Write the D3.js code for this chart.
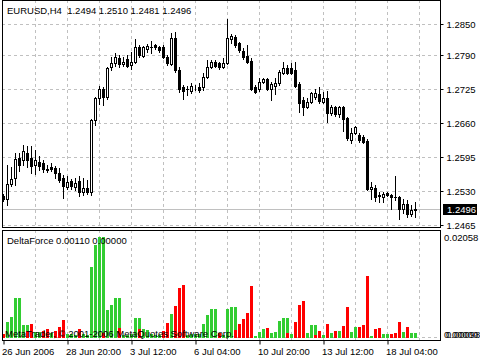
<!DOCTYPE html>
<html>
<head>
<meta charset="utf-8">
<script src="https://cdn.jsdelivr.net/npm/d3@7"></script>
<style>
  body { margin: 0; background: #fff; }
  svg text { font-family: "Liberation Sans", Arial, sans-serif; font-size: 9.5px; fill: #000; }
</style>
</head>
<body>
<div id="chart-container"></div>
<script>
// EURUSD H4 candles
const opens = [1.2521,1.2515,1.2544,1.2555,1.2593,1.2590,1.2603,1.2593,1.2580,1.2586,
  1.2584,1.2572,1.2576,1.2574,1.2565,1.2555,1.2538,1.2549,1.2538,1.2549,
  1.2528,1.2536,1.2528,1.2666,1.2708,1.2725,1.2710,1.2768,1.2775,1.2785,
  1.2773,1.2783,1.2771,1.2777,1.2806,1.2789,1.2802,1.2806,1.2810,1.2806,
  1.2806,1.2787,1.2773,1.2823,1.2762,1.2729,1.2726,1.2722,1.2729,1.2729,
  1.2729,1.2748,1.2768,1.2777,1.2775,1.2768,1.2775,1.2821,1.2825,1.2814,
  1.2798,1.2789,1.2779,1.2729,1.2725,1.2739,1.2745,1.2725,1.2731,1.2737,
  1.2756,1.2766,1.2766,1.2762,1.2735,1.2704,1.2691,1.2701,1.2710,1.2716,
  1.2701,1.2708,1.2680,1.2691,1.2678,1.2691,1.2670,1.2628,1.2641,1.2637,
  1.2634,1.2626,1.2534,1.2536,1.2523,1.2519,1.2526,1.2523,1.2519,1.2519,
  1.2496,1.2505,1.2486,1.2494];
const highs = [1.2524,1.2580,1.2576,1.2603,1.2603,1.2618,1.2616,1.2616,1.2609,1.2597,
  1.2590,1.2580,1.2584,1.2578,1.2574,1.2561,1.2559,1.2553,1.2555,1.2559,
  1.2555,1.2551,1.2668,1.2710,1.2731,1.2729,1.2768,1.2787,1.2794,1.2791,
  1.2787,1.2791,1.2796,1.2821,1.2810,1.2808,1.2812,1.2817,1.2812,1.2808,
  1.2810,1.2791,1.2833,1.2835,1.2768,1.2733,1.2731,1.2737,1.2733,1.2737,
  1.2756,1.2781,1.2781,1.2781,1.2777,1.2785,1.2860,1.2831,1.2829,1.2816,
  1.2804,1.2810,1.2785,1.2733,1.2747,1.2747,1.2747,1.2739,1.2747,1.2762,
  1.2777,1.2771,1.2775,1.2777,1.2739,1.2710,1.2708,1.2720,1.2725,1.2729,
  1.2720,1.2722,1.2695,1.2693,1.2693,1.2693,1.2672,1.2651,1.2655,1.2641,
  1.2637,1.2630,1.2547,1.2542,1.2528,1.2528,1.2528,1.2524,1.2559,1.2521,
  1.2515,1.2513,1.2503,1.2510];
const lows = [1.2511,1.2503,1.2540,1.2542,1.2569,1.2580,1.2576,1.2565,1.2563,1.2570,
  1.2567,1.2567,1.2569,1.2555,1.2547,1.2517,1.2534,1.2534,1.2532,1.2521,
  1.2523,1.2524,1.2523,1.2657,1.2697,1.2695,1.2706,1.2762,1.2770,1.2768,
  1.2770,1.2768,1.2764,1.2775,1.2787,1.2787,1.2796,1.2794,1.2802,1.2796,
  1.2785,1.2771,1.2771,1.2758,1.2720,1.2706,1.2714,1.2718,1.2724,1.2720,
  1.2724,1.2747,1.2766,1.2768,1.2764,1.2766,1.2773,1.2814,1.2806,1.2796,
  1.2783,1.2775,1.2724,1.2718,1.2722,1.2737,1.2724,1.2704,1.2716,1.2733,
  1.2754,1.2754,1.2754,1.2729,1.2681,1.2676,1.2689,1.2699,1.2706,1.2699,
  1.2699,1.2662,1.2676,1.2674,1.2672,1.2645,1.2628,1.2622,1.2639,1.2624,
  1.2622,1.2532,1.2515,1.2511,1.2509,1.2509,1.2521,1.2496,1.2513,1.2477,
  1.2488,1.2480,1.2482,1.2481];
const closes = [1.2515,1.2544,1.2553,1.2591,1.2580,1.2607,1.2590,1.2578,1.2590,1.2578,
  1.2572,1.2571,1.2572,1.2565,1.2551,1.2540,1.2547,1.2540,1.2545,1.2528,
  1.2536,1.2528,1.2666,1.2708,1.2725,1.2710,1.2766,1.2775,1.2787,1.2773,
  1.2777,1.2770,1.2777,1.2806,1.2791,1.2806,1.2808,1.2805,1.2806,1.2800,
  1.2787,1.2775,1.2823,1.2762,1.2726,1.2722,1.2725,1.2731,1.2730,1.2724,
  1.2748,1.2768,1.2777,1.2770,1.2768,1.2775,1.2823,1.2827,1.2810,1.2800,
  1.2787,1.2777,1.2726,1.2720,1.2739,1.2745,1.2726,1.2735,1.2737,1.2758,
  1.2766,1.2756,1.2756,1.2731,1.2699,1.2691,1.2701,1.2718,1.2718,1.2703,
  1.2708,1.2680,1.2691,1.2678,1.2691,1.2668,1.2632,1.2641,1.2653,1.2628,
  1.2624,1.2534,1.2538,1.2519,1.2521,1.2524,1.2523,1.2519,1.2518,1.2496,
  1.2505,1.2486,1.2494,1.2496];

// DeltaForce buffers
const greenForce = [0,.0033,.0043,.0082,.0082,.0027,.0027,0,.0012,.0012,
  0,0,.0010,0,0,0,.0008,.0008,.0006,0,
  .0008,.0006,.0144,.0189,.02058,.02058,.0058,.0068,.0082,.0082,
  .0006,.0006,.0008,.0041,.0041,.0019,.0016,.0008,.0006,.0006,
  0,0,.0049,0,0,0,.0006,.0008,.0008,.0008,
  .0029,.0047,.0060,.0060,0,.0006,.0060,.0064,.0064,0,
  0,0,0,.0004,.0012,.0019,0,.0010,.0012,.0035,
  .0041,.0041,.0008,0,0,0,.0010,.0027,.0027,0,
  .0006,0,.0010,0,.0014,0,0,.0012,.0023,0,
  0,0,.0004,0,0,.0008,.0008,0,0,0,
  .0012,0,.0010,.0011];
const redForce = [.0008,0,0,0,0,0,.0014,.0029,0,0,
  .0014,.0019,0,.0014,.0023,.0037,0,0,0,.0019,
  0,0,0,0,0,.0010,0,0,0,.0021,
  0,0,0,0,.0019,0,0,0,0,0,
  .0014,.0031,0,.0066,.0101,.0107,0,0,0,0,
  0,0,0,0,.0010,0,0,0,.0016,.0029,
  .0039,.0051,.0105,0,0,0,.0021,0,0,0,
  0,.0010,0,.0033,.0068,.0076,0,0,.0006,.0014,
  0,.0029,0,.0014,0,.0025,.0064,0,0,.0023,
  .0027,.0126,0,.0019,.0021,0,0,.0008,.0010,.0033,
  0,.0023,0,0];

const priceTicks = [1.2850, 1.2790, 1.2725, 1.2660, 1.2595, 1.2530, 1.2465];
const timeTicks = [0, 16, 32, 48, 64, 80, 96];
const timeLabels = ["26 Jun 2006", "28 Jun 20:00", "3 Jul 12:00", "6 Jul 04:00", "10 Jul 20:00", "13 Jul 12:00", "18 Jul 04:00"];
const gridIdx = [8, 16, 24, 32, 40, 48, 56, 64, 72, 80, 88, 96, 104];
const lastPrice = 1.2496;
const subMax = 0.02058, subMin = 0.00098;

const left = 2, right = 441;
const mainTop = 0, mainBottom = 227;
const subTop = 230, subBottom = 340;
const grid = "#c0c0c0";

const svg = d3.select("#chart-container").append("svg")
  .attr("width", 480).attr("height", 360);

const x = d3.scaleLinear().domain([0, 103]).range([3, 415]);
const y = d3.scaleLinear().domain([1.2465, 1.2850]).range([225, 24]);
const ySub = d3.scaleLinear().domain([0, subMax]).range([338, 237]);
const py = v => Math.round(y(v));

const bars = opens.map((o, i) => ({ i, o, h: highs[i], l: lows[i], c: closes[i] }));

svg.append("clipPath").attr("id", "mainClip").append("rect")
  .attr("x", left + 1).attr("y", mainTop).attr("width", right - left - 1).attr("height", mainBottom - mainTop);
svg.append("clipPath").attr("id", "subClip").append("rect")
  .attr("x", left + 1).attr("y", subTop + 1).attr("width", right - left - 1).attr("height", subBottom - subTop - 1);

// grids
const main = svg.append("g").attr("clip-path", "url(#mainClip)");
main.selectAll(".vg").data(gridIdx).join("line")
  .attr("x1", d => x(d) + 0.5).attr("x2", d => x(d) + 0.5)
  .attr("y1", mainTop).attr("y2", mainBottom)
  .attr("stroke", grid).attr("stroke-dasharray", "3,3");
main.selectAll(".hg").data(priceTicks).join("line")
  .attr("x1", left).attr("x2", right)
  .attr("y1", d => py(d) + 0.5).attr("y2", d => py(d) + 0.5)
  .attr("stroke", grid).attr("stroke-dasharray", "3,3");
main.append("line")
  .attr("x1", left).attr("x2", right)
  .attr("y1", py(lastPrice) + 0.5).attr("y2", py(lastPrice) + 0.5)
  .attr("stroke", grid);

// candles
const cg = main.selectAll(".candle").data(bars).join("g");
cg.append("line")
  .attr("x1", d => x(d.i) + 0.5).attr("x2", d => x(d.i) + 0.5)
  .attr("y1", d => py(d.h)).attr("y2", d => py(d.l) + 1)
  .attr("stroke", "#000");
cg.append("rect")
  .attr("x", d => d.c >= d.o ? x(d.i) - 0.5 : x(d.i) - 1)
  .attr("y", d => d.c >= d.o ? py(Math.max(d.o, d.c)) + 0.5 : py(Math.max(d.o, d.c)))
  .attr("width", d => d.c >= d.o ? 2 : 3)
  .attr("height", d => {
    const hgt = py(Math.min(d.o, d.c)) - py(Math.max(d.o, d.c));
    return d.c >= d.o ? hgt : Math.max(1, hgt + 1);
  })
  .attr("fill", d => d.c >= d.o ? "#fff" : "#000")
  .attr("stroke", d => d.c >= d.o ? "#000" : "none");

// sub window
const sub = svg.append("g").attr("clip-path", "url(#subClip)");
sub.selectAll(".svg").data(gridIdx).join("line")
  .attr("x1", d => x(d) + 0.5).attr("x2", d => x(d) + 0.5)
  .attr("y1", subTop).attr("y2", subBottom)
  .attr("stroke", grid).attr("stroke-dasharray", "3,3");
sub.append("line")
  .attr("x1", left).attr("x2", right)
  .attr("y1", ySub(0) - 0.5).attr("y2", ySub(0) - 0.5)
  .attr("stroke", grid).attr("stroke-dasharray", "3,3");
sub.selectAll(".gbar").data(greenForce).join("rect")
  .attr("x", (d, i) => x(i) - 1).attr("width", 3)
  .attr("y", d => Math.round(ySub(d))).attr("height", d => ySub(0) - Math.round(ySub(d)))
  .attr("fill", "#32cd32");
sub.selectAll(".rbar").data(redForce).join("rect")
  .attr("x", (d, i) => x(i) - 1).attr("width", 3)
  .attr("y", d => Math.round(ySub(d))).attr("height", d => ySub(0) - Math.round(ySub(d)))
  .attr("fill", "#ff0000");
sub.append("text").attr("x", 5).attr("y", 334).attr("dy", "0.35em")
  .text("MetaTrader, © 2001-2006 MetaQuotes Software Corp.");

// frames
svg.append("rect").attr("x", left + 0.5).attr("y", mainTop + 0.5)
  .attr("width", right - left - 1).attr("height", mainBottom - mainTop)
  .attr("fill", "none").attr("stroke", "#000");
svg.append("rect").attr("x", left + 0.5).attr("y", subTop + 0.5)
  .attr("width", right - left - 1).attr("height", subBottom - subTop)
  .attr("fill", "none").attr("stroke", "#000");

// price axis
svg.append("g")
  .attr("transform", `translate(${right - 0.5},0.5)`)
  .call(d3.axisRight(y).tickValues(priceTicks).tickFormat(d3.format(".4f")).tickSize(3).tickPadding(3))
  .call(g => g.select(".domain").remove())
  .call(g => g.selectAll(".tick").attr("transform", d => `translate(0,${py(d)})`))
  .call(g => g.selectAll("text").attr("font-family", null).attr("font-size", null));

// last price box
svg.append("rect").attr("x", 443).attr("y", py(lastPrice) - 5)
  .attr("width", 34).attr("height", 11).attr("fill", "#000");
svg.append("text").attr("x", 447).attr("y", py(lastPrice) + 0.5).attr("dy", "0.35em")
  .style("fill", "#fff").text(lastPrice.toFixed(4));

// sub axis labels
svg.append("text").attr("x", 444).attr("y", 238).attr("dy", "0.35em").text(subMax.toFixed(5));
svg.append("text").attr("x", 444).attr("y", 335).attr("dy", "0.35em").text((0).toFixed(5));
svg.append("text").attr("x", 446).attr("y", 335).attr("dy", "0.35em").text(subMin.toFixed(5));

// time axis
svg.append("g")
  .attr("transform", `translate(0.5,${subBottom + 0.5})`)
  .call(d3.axisBottom(x).tickValues(timeTicks).tickFormat((d, i) => timeLabels[i]).tickSize(4).tickPadding(4))
  .call(g => g.select(".domain").remove())
  .call(g => g.selectAll("text").attr("text-anchor", "start").attr("x", -2)
    .attr("font-family", null).attr("font-size", null));

// titles
svg.append("text").attr("x", 7).attr("y", 10.5).attr("dy", "0.35em")
  .text(`EURUSD,H4  ${opens[103].toFixed(4)} ${highs[103].toFixed(4)} ${lows[103].toFixed(4)} ${closes[103].toFixed(4)}`)
  .attr("xml:space", "preserve").style("white-space", "pre");
svg.append("text").attr("x", 7).attr("y", 240.5).attr("dy", "0.35em")
  .text(`DeltaForce ${greenForce[103].toFixed(5)} ${redForce[103].toFixed(5)}`);
</script>
</body>
</html>
